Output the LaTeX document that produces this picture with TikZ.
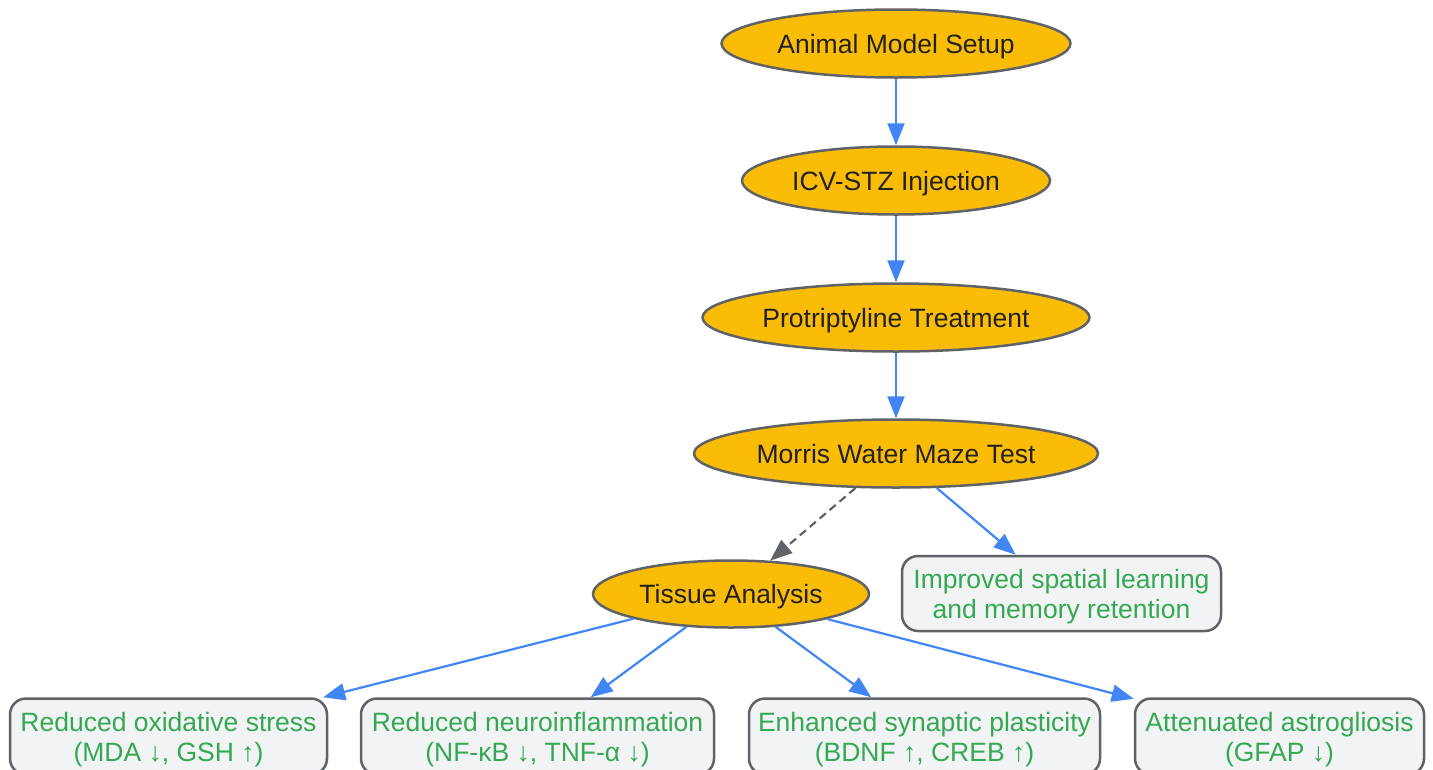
\documentclass[tikz,border=0pt]{standalone}
\usepackage{fontspec}
\setmainfont{Liberation Sans}
\usetikzlibrary{shapes.geometric,arrows.meta}
\definecolor{nodefill}{HTML}{FBBC05}
\definecolor{edgegray}{HTML}{5F6368}
\definecolor{arrowblue}{HTML}{4285F4}
\definecolor{resgreen}{HTML}{34A853}
\definecolor{boxfill}{HTML}{F1F3F4}
\definecolor{txtdark}{HTML}{202124}
\tikzset{
  x=1pt, y=-1pt,
  stepnode/.style={ellipse, draw=edgegray, line width=2.5pt, fill=nodefill,
    text=txtdark, inner sep=0pt, minimum height=68pt,
    text height=19pt, text depth=0pt,
    font=\fontsize{26.5}{30}\selectfont},
  resultbox/.style={rectangle, rounded corners=16pt, draw=edgegray, line width=2.5pt,
    fill=boxfill, text=resgreen, inner sep=0pt, align=center,
    text depth=0pt,
    font=\fontsize{26.5}{30}\selectfont},
  flow/.style={draw=arrowblue, line width=2.2pt, -{Triangle[length=22pt,width=17pt]}},
  dashflow/.style={draw=edgegray, line width=2.2pt, dash pattern=on 8pt off 5pt,
    -{Triangle[length=22pt,width=17pt]}},
}
\begin{document}
\begin{tikzpicture}
\useasboundingbox (0,0) rectangle (1433,769);
\clip (0,0) rectangle (1433,769);
\node[stepnode, minimum width=349pt] (ams) at (896,43.5) {Animal Model Setup};
\node[stepnode, minimum width=308pt] (icv) at (896,180.5) {ICV-STZ Injection};
\node[stepnode, minimum width=387pt] (pt) at (896,317.5) {Protriptyline Treatment};
\node[stepnode, minimum width=404pt] (mwm) at (896,453.5) {Morris Water Maze Test};
\node[stepnode, minimum width=276pt, minimum height=67pt] (ta) at (731,594) {Tissue Analysis};
\node[resultbox, minimum width=319pt, minimum height=75pt] (imp) at (1061.5,593.5) {Improved spatial learning\\and memory retention};
\node[resultbox, minimum width=317pt, minimum height=76pt] (b1) at (168.5,736.5) {Reduced oxidative stress\\(MDA ↓, GSH ↑)};
\node[resultbox, minimum width=353pt, minimum height=76pt] (b2) at (537.5,736.5) {Reduced neuroinflammation\\(NF-κB ↓, TNF-α ↓)};
\node[resultbox, minimum width=351pt, minimum height=76pt] (b3) at (924.5,736.5) {Enhanced synaptic plasticity\\(BDNF ↑, CREB ↑)};
\node[resultbox, minimum width=289pt, minimum height=76pt] (b4) at (1279.5,736.5) {Attenuated astrogliosis\\(GFAP ↓)};
\draw[flow] (ams) -- (icv);
\draw[flow] (icv) -- (pt);
\draw[flow] (pt) -- (mwm);
\draw[dashflow] (mwm) -- (ta);
\draw[flow] (mwm) -- (imp);
\draw[flow] (ta) -- (b1);
\draw[flow] (ta) -- (b2);
\draw[flow] (ta) -- (b3);
\draw[flow] (ta) -- (b4);
\end{tikzpicture}
\end{document}
